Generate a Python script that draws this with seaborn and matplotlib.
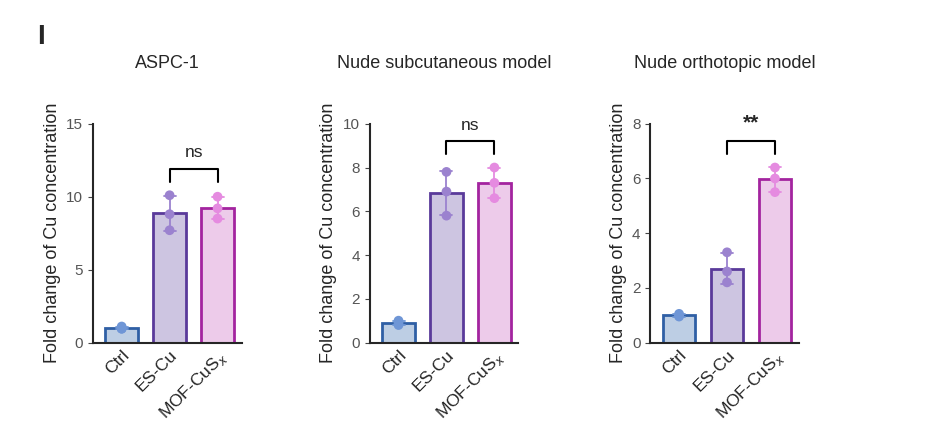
import matplotlib
matplotlib.use("Agg")
import matplotlib.pyplot as plt
import seaborn as sns
import pandas as pd
import numpy as np

groups = ["Ctrl", "ES-Cu", "MOF-CuS$_x$"]
titles = ["ASPC-1", "Nude subcutaneous model", "Nude orthotopic model"]
p1_ctrl = [0.95, 1.1, 0.95]; p1_es = [10.1, 8.8, 7.7]; p1_mof = [10.0, 9.2, 8.5]
p2_ctrl = [0.8, 1.0, 0.9]; p2_es = [7.8, 6.9, 5.8]; p2_mof = [8.0, 7.3, 6.6]
p3_ctrl = [0.95, 1.05, 1.0]; p3_es = [3.3, 2.6, 2.2]; p3_mof = [6.4, 6.0, 5.5]
ymaxs = [15, 10, 8]
yticks = [[0, 5, 10, 15], [0, 2, 4, 6, 8, 10], [0, 2, 4, 6, 8]]
sig = ["ns", "ns", "**"]
data = [(p1_ctrl, p1_es, p1_mof), (p2_ctrl, p2_es, p2_mof), (p3_ctrl, p3_es, p3_mof)]

fill = ["#b7cdea", "#cbc0e6", "#f3c5ee"]
edge = ["#2f5fa5", "#5a3a9a", "#a3249f"]
pts = ["#6f96d6", "#9b82cf", "#e58be0"]

sns.set_style("ticks")
plt.rcParams["font.family"] = ["Liberation Sans", "DejaVu Sans"]
fig = plt.figure(figsize=(9.29, 4.42), dpi=100)
lefts = [0.100, 0.398, 0.700]
for i in range(3):
    ax = fig.add_axes([lefts[i], 0.225, 0.16, 0.495])
    vals = []; grp = []
    for g, arr in zip(groups, data[i]):
        vals += arr; grp += [g] * len(arr)
    df = pd.DataFrame({"g": grp, "v": vals})
    sns.barplot(data=df, x="g", y="v", hue="g", order=groups, hue_order=groups,
                palette=fill, errorbar="sd", capsize=0.25, width=0.68,
                err_kws={"linewidth": 1.3}, legend=False, ax=ax)
    for j, patch in enumerate(ax.patches):
        patch.set_edgecolor(edge[j]); patch.set_linewidth(2)
    for j, line in enumerate(ax.lines):
        line.set_color(pts[j % 3])
    sns.stripplot(data=df, x="g", y="v", hue="g", order=groups, hue_order=groups,
                  palette=pts, jitter=False, size=7, legend=False, ax=ax, zorder=5)
    ax.set_ylim(0, ymaxs[i]); ax.set_yticks(yticks[i])
    ax.set_xlim(-0.6, 2.5)
    ax.set_xlabel(""); ax.set_ylabel("Fold change of Cu concentration", fontsize=13)
    ax.set_title(titles[i], fontsize=13, pad=40)
    ax.tick_params(axis="x", labelrotation=45, labelsize=12.5, length=0)
    ax.tick_params(axis="y", labelsize=11, colors="#444444", labelcolor="#555555")
    for lab in ax.get_xticklabels():
        lab.set_ha("right"); lab.set_rotation_mode("anchor")
    sns.despine(ax=ax)
    for s in ["left", "bottom"]:
        ax.spines[s].set_linewidth(1.5)
    top = max(max(data[i][1]), max(data[i][2]))
    yb = top + ymaxs[i] * 0.06; h = ymaxs[i] * 0.06
    ax.plot([1, 1, 2, 2], [yb, yb + h, yb + h, yb], color="black", lw=1.5, clip_on=False)
    ax.text(1.5, yb + h + ymaxs[i] * 0.04, sig[i], ha="center", va="bottom",
            fontsize=15 if sig[i] == "**" else 12.5, fontweight="bold" if sig[i] == "**" else "normal")
fig.text(0.04, 0.9, "I", fontsize=20, fontweight="bold")
fig.savefig("out.png", dpi=100)
